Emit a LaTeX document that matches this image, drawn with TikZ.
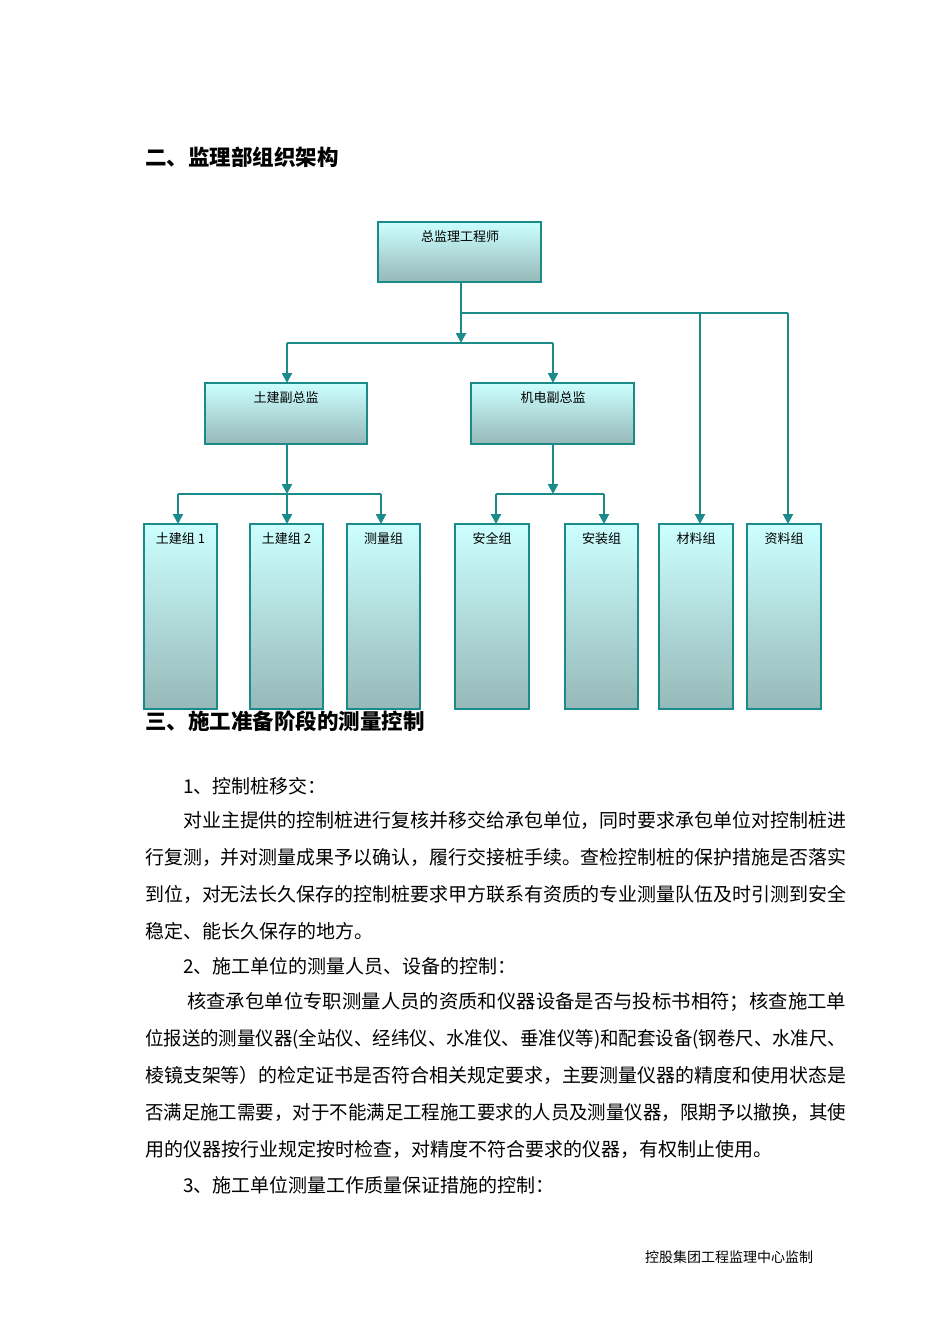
\documentclass[tikz,border=0pt]{standalone}
\usepackage{graphicx}
\usepackage{fontspec}
\setmainfont{Noto Sans CJK SC}
\usetikzlibrary{arrows.meta}
\definecolor{tealc}{HTML}{1A8A8A}
\definecolor{toplt}{HTML}{CCFFFF}
\definecolor{botdk}{HTML}{96B8B8}
\tikzset{
 box/.style={draw=tealc,line width=2pt,top color=toplt,bottom color=botdk,inner sep=0pt},
 lbl/.style={font=\fontsize{13}{13}\selectfont,anchor=north,inner sep=0pt},
 conn/.style={draw=tealc,line width=2.2pt},
 arr/.style={conn,-{Triangle[length=10pt,width=10pt]}},
 body/.style={anchor=base west,inner sep=0pt,font=\fontsize{19}{19}\selectfont},
 head/.style={anchor=base west,inner sep=0pt,font=\fontsize{21.5}{21.5}\selectfont\bfseries},
}
\newcommand{\jl}[2]{\resizebox{#1pt}{\height}{#2}}
\begin{document}
\begin{tikzpicture}[x=1pt,y=-1pt]
\useasboundingbox (0,0) rectangle (950,1344);
\node[head] (h1) at (145,165) {二、监理部组织架构};
% boxes
\path[box] (378,222) rectangle (541,282); \node[lbl] (t0) at (460,230) {总监理工程师};
\path[box] (205,383) rectangle (367,444); \node[lbl] (t1) at (286,391) {土建副总监};
\path[box] (471,383) rectangle (634,444); \node[lbl] (t2) at (553,391) {机电副总监};
\foreach \a/\b/\t [count=\i] in {144/217/土建组 1,250/323/土建组 2,347/420/测量组,455/529/安全组,565/638/安装组,659/733/材料组,747/821/资料组}{
 \path[box] (\a,524) rectangle (\b,709);
 \node[lbl] (g\i) at ({(\a+\b)/2},532) {\t};
}
\coordinate (c0) at (461,282);
\coordinate (c1) at (461,343);
\draw[arr] (c0) -- (c1);
\draw[conn] (461,313) -- (788,313);
\draw[arr] (700,313) -- (700,524);
\draw[arr] (788,313) -- (788,524);
\draw[conn] (287,343) -- (553,343);
\draw[arr] (287,343) -- (287,383);
\draw[arr] (553,343) -- (553,383);
\draw[arr] (287,444) -- (287,494);
\draw[conn] (178,494) -- (381,494);
\draw[arr] (178,494) -- (178,524);
\draw[arr] (287,494) -- (287,524);
\draw[arr] (381,494) -- (381,524);
\draw[arr] (553,444) -- (553,494);
\draw[conn] (496,494) -- (604,494);
\draw[arr] (496,494) -- (496,524);
\draw[arr] (604,494) -- (604,524);
\node[head] (h2) at (145,729) {三、施工准备阶段的测量控制};
\node[body] (l1) at (183,793) {1、控制桩移交：};
\node[body] (l2) at (183,827) {\jl{663}{对业主提供的控制桩进行复核并移交给承包单位，同时要求承包单位对控制桩进}};
\node[body] (l3) at (145,864) {\jl{701}{行复测，并对测量成果予以确认，履行交接桩手续。查检控制桩的保护措施是否落实}};
\node[body] (l4) at (145,901) {\jl{701}{到位，对无法长久保存的控制桩要求甲方联系有资质的专业测量队伍及时引测到安全}};
\node[body] (l5) at (145,938) {稳定、能长久保存的地方。};
\node[body] (l6) at (183,973) {2、施工单位的测量人员、设备的控制：};
\node[body] (l7) at (187,1008) {\jl{659}{核查承包单位专职测量人员的资质和仪器设备是否与投标书相符；核查施工单}};
\node[body] (l8) at (145,1045) {\jl{701}{位报送的测量仪器(全站仪、经纬仪、水准仪、垂准仪等)和配套设备(钢卷尺、水准尺、}};
\node[body] (l9) at (145,1082) {\jl{701}{棱镜支架等）的检定证书是否符合相关规定要求，主要测量仪器的精度和使用状态是}};
\node[body] (l10) at (145,1119) {\jl{701}{否满足施工需要，对于不能满足工程施工要求的人员及测量仪器，限期予以撤换，其使}};
\node[body] (l11) at (145,1156) {用的仪器按行业规定按时检查，对精度不符合要求的仪器，有权制止使用。};
\node[body] (l12) at (183,1192) {3、施工单位测量工作质量保证措施的控制：};
\node[anchor=base west,inner sep=0pt,font=\fontsize{14}{14}\selectfont] (ft) at (645,1262) {控股集团工程监理中心监制};
\end{tikzpicture}
\end{document}
